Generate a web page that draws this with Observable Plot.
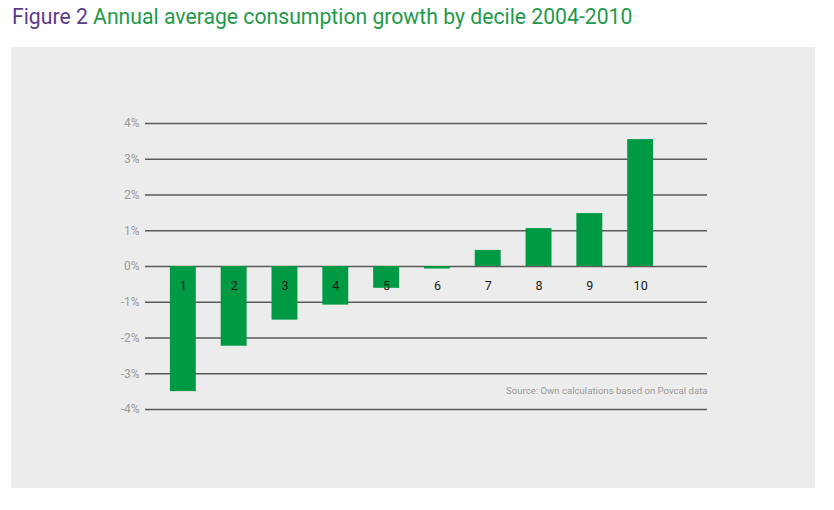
<!DOCTYPE html>
<html>
<head>
<meta charset="utf-8">
<script src="https://cdn.jsdelivr.net/npm/d3@7"></script>
<script src="https://cdn.jsdelivr.net/npm/@observablehq/plot@0.6"></script>
<style>
  body { margin: 0; background: #fff; font-family: Roboto, sans-serif; }
  #title { position: absolute; left: 12px; top: 4px; font-size: 21.2px; color: #1f9a49; white-space: nowrap; letter-spacing: 0px; }
  #title .fig { color: #5b3a8c; }
  #panel { position: absolute; left: 11px; top: 47px; width: 804px; height: 441px; background: #ececec; }
</style>
</head>
<body>
<div id="title"><span class="fig">Figure 2</span> Annual average consumption growth by decile 2004-2010</div>
<div id="panel"></div>
<script>
const deciles = ["1","2","3","4","5","6","7","8","9","10"];
const growth = [-3.50, -2.23, -1.50, -1.08, -0.61, -0.07, 0.45, 1.06, 1.48, 3.55];
const yTicks = [-4, -3, -2, -1, 0, 1, 2, 3, 4];
const sourceText = "Source: Own calculations based on Povcal data";

const data = deciles.map((d, i) => ({decile: d, value: growth[i]}));

const chart = Plot.plot({
  width: 804,
  height: 441,
  marginLeft: 134,
  marginRight: 108,
  marginTop: 76,
  marginBottom: 79,
  style: {background: "transparent", fontFamily: "Roboto, sans-serif"},
  x: {domain: deciles, range: [134, 667], padding: 0.49, round: false, axis: null},
  y: {domain: [-4, 4], ticks: yTicks, tickFormat: d => d + "%", label: null, tickSize: 0, tickPadding: 7},
  marks: [
    Plot.ruleY(yTicks, {stroke: "#5a5a5a", strokeWidth: 1.3}),
    Plot.barY(data, {x: "decile", y: "value", fill: "#009a44"}),
    Plot.text(data, {x: "decile", y: 0, text: "decile", dy: 19.5, fill: "#1a1a1a", fontSize: 12.5}),
    Plot.text([sourceText], {frameAnchor: "bottom-right", text: d => d, dy: -16, textAnchor: "end", fill: "#9a9a9a", fontSize: 9.6}),
    Plot.axisY({ticks: yTicks, tickFormat: d => d + "%", tickSize: 0, tickPadding: 6, fill: "#9a9a9a", fontSize: 12, label: null})
  ]
});
document.getElementById("panel").appendChild(chart);
</script>
</body>
</html>
